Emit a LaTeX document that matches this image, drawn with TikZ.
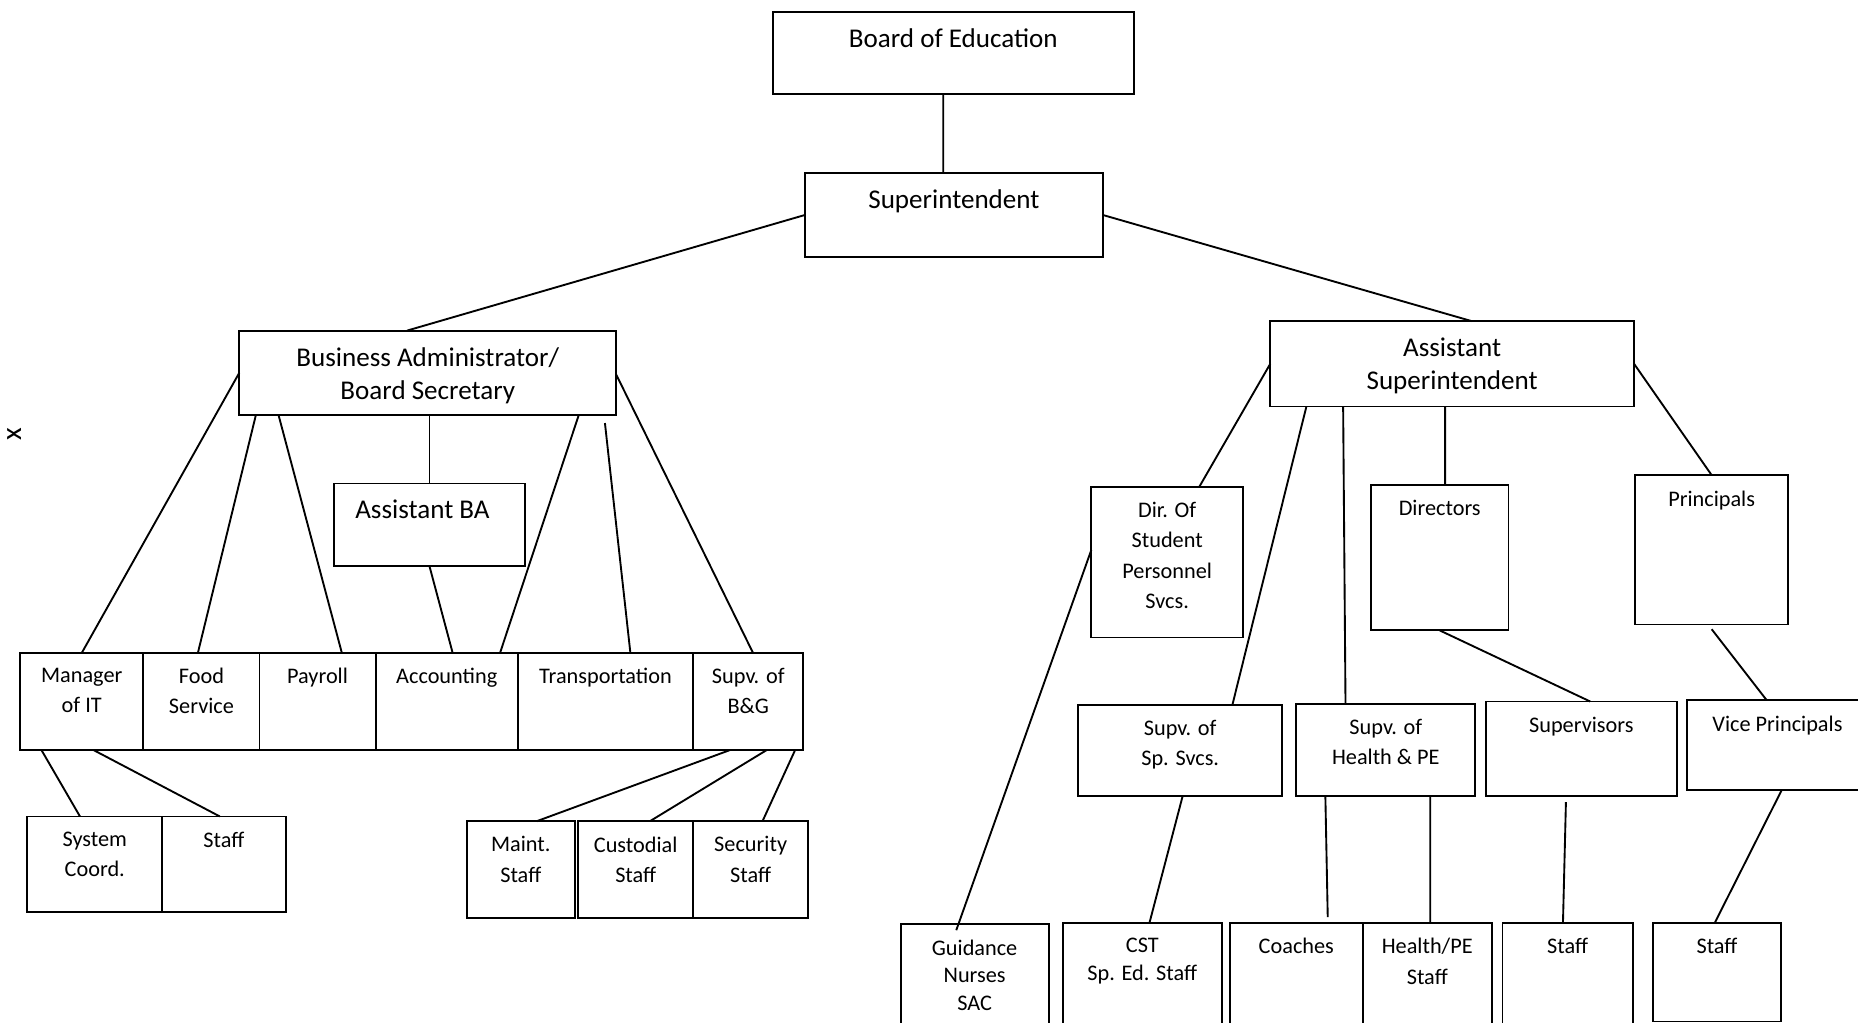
\documentclass[tikz,border=0pt]{standalone}
\usepackage{fontspec}
\setmainfont{Carlito}

\begin{document}
\begin{tikzpicture}[
        x=0.02cm, y=-0.02cm,
        unit/.style={draw, line width=0.9pt, anchor=north west, inner sep=0pt, outer sep=0pt},
        dims/.style 2 args={minimum width=#1*0.02cm, minimum height=#2*0.02cm},
        txt/.style={anchor=north, align=center, inner sep=0pt, yshift=-7.2pt, font=\fontsize{10.7}{14.5}\selectfont},
        head/.style={anchor=north, align=center, inner sep=0pt, yshift=-7.8pt, font=\fontsize{13}{15.9}\selectfont},
        link/.style={line width=0.9pt}
    ]
        \useasboundingbox (0,0) rectangle (1568,863);

        % 1. Topo (Board / Superintendent)
        \node[unit, dims={305}{69}, label={[head]north:Board of Education}] (board) at (652,10) {};
        \node[unit, dims={252}{71}, label={[head]north:Superintendent}] (super) at (679,146) {};
        \draw[link] ([xshift=-0.17cm]board.south) -- ([xshift=-0.18cm]super.north);

        % 2. Lado do Business Administrator
        \node[unit, dims={318}{71}, label={[head]north:{Business Administrator/\\Board Secretary}}] (ba) at (202,279) {};
        \node[unit, dims={161}{70}, label={[head, xshift=-0.12cm]north:Assistant BA}] (aba) at (282,408) {};
        \draw[link] (super.west) -- ([xshift=-0.35cm]ba.north);
        \draw[link] (aba.north |- ba.south) -- (aba.north);

        \node[unit, dims={104}{82}, label={[txt]north:{Manager\\of IT}}] (mit) at (17,551) {};
        \node[unit, dims={98}{82}, label={[txt]north:{Food\\Service}}] (food) at (mit.north east) {};
        \node[unit, dims={98}{82}, label={[txt]north:Payroll}] (pay) at (food.north east) {};
        \node[unit, dims={120}{82}, label={[txt]north:Accounting}] (acct) at (pay.north east) {};
        \node[unit, dims={148}{82}, label={[txt]north:Transportation}] (trans) at (acct.north east) {};
        \node[unit, dims={93}{82}, label={[txt]north:{Supv. of\\B\&G}}] (bg) at (trans.north east) {};

        \draw[link] (ba.west) -- (mit.north);
        \draw[link] ([xshift=0.28cm]ba.south west) -- ([xshift=-0.06cm]food.north);
        \draw[link] ([xshift=0.66cm]ba.south west) -- ([xshift=0.41cm]pay.north);
        \draw[link] (aba.south) -- ([xshift=0.1cm]acct.north);
        \draw[link] ([xshift=-0.63cm]ba.south east) -- ([xshift=-0.3cm]acct.north east);
        \draw[link] ([xshift=-0.19cm, yshift=-0.14cm]ba.south east) -- ([xshift=0.42cm]trans.north);
        \draw[link] ([yshift=-0.03cm]ba.east) -- ([xshift=0.08cm]bg.north);

        \node[unit, dims={114}{81}, label={[txt]north:{System\\Coord.}}] (sys) at (23,689) {};
        \node[unit, dims={104}{81}, label={[txt]north:Staff}] (itstaff) at (sys.north east) {};
        \draw[link] ([xshift=0.36cm]mit.south west) -- ([xshift=-0.25cm]sys.north);
        \draw[link] ([xshift=1.24cm]mit.south west) -- ([xshift=-0.07cm]itstaff.north);

        \node[unit, dims={91}{82}, label={[txt]north:{Maint.\\Staff}}] (maint) at (394,693) {};
        \node[unit, dims={97}{82}, label={[txt]north:{Custodial\\Staff}}] (cust) at (488,693) {};
        \node[unit, dims={97}{82}, label={[txt]north:{Security\\Staff}}] (sec) at (cust.north east) {};
        \draw[link] ([xshift=0.62cm]bg.south west) -- ([xshift=0.27cm]maint.north);
        \draw[link] ([xshift=1.24cm]bg.south west) -- ([xshift=0.24cm]cust.north);
        \draw[link] ([xshift=-0.14cm]bg.south east) -- ([xshift=0.2cm]sec.north);

        % 3. Lado do Assistant Superintendent
        \node[unit, dims={307}{72}, label={[head]north:{Assistant\\Superintendent}}] (asup) at (1072,271) {};
        \draw[link] (super.east) -- ([xshift=0.33cm]asup.north);

        \node[unit, dims={128}{127}, label={[txt]north:{Dir. Of\\Student\\Personnel\\Svcs.}}] (dsp) at (921,411) {};
        \node[unit, dims={116}{123}, label={[txt]north:Directors}] (dir) at (1157,409) {};
        \node[unit, dims={129}{126}, label={[txt]north:Principals}] (prin) at (1380,401) {};
        \draw[link] (asup.west) -- ([xshift=0.54cm]dsp.north);
        \draw[link] ([xshift=-0.12cm]asup.south) -- ([xshift=0.09cm]dir.north);
        \draw[link] (asup.east) -- (prin.north);

        \node[unit, dims={172}{77}, label={[txt]north:{Supv. of\\Sp. Svcs.}}] (spsv) at (910,595) {};
        \node[unit, dims={151}{78}, label={[txt]north:{Supv. of\\Health \& PE}}] (hpe) at (1094,594) {};
        \node[unit, dims={161}{80}, label={[txt]north:Supervisors}] (supv) at (1254,592) {};
        \node[unit, dims={152}{76}, label={[txt]north:Vice Principals}] (vp) at (1424,591) {};
        \draw[link] ([xshift=0.61cm]asup.south west) -- ([xshift=0.88cm]spsv.north);
        \draw[link] ([xshift=1.23cm]asup.south west) -- ([xshift=0.83cm]hpe.north west);
        \draw[link] (dir.south) -- ([xshift=0.15cm]supv.north);
        \draw[link] ([yshift=-0.08cm]prin.south) -- ([xshift=-0.18cm]vp.north);

        % 4. Linha de baixo (staff)
        \node[unit, dims={125}{100}, label={[txt, font=\fontsize{10.7}{13.2}\selectfont]north:{Guidance\\Nurses\\SAC}}] (guid) at (760,780) {};
        \node[unit, dims={134}{100}, label={[txt, font=\fontsize{10.7}{13.2}\selectfont]north:{CST\\Sp. Ed. Staff}}] (cst) at (897,779) {};
        \node[unit, dims={112}{100}, label={[txt]north:Coaches}] (coach) at (1038,779) {};
        \node[unit, dims={109}{100}, label={[txt]north:{Health/PE\\Staff}}] (hpstf) at (coach.north east) {};
        \node[unit, dims={110}{100}, label={[txt]north:Staff}] (supstf) at (1268,779) {};
        \node[unit, dims={108}{83}, label={[txt]north:Staff}] (vpstf) at (1395,779) {};

        \draw[link] ([yshift=0.21cm]dsp.west) -- ([xshift=-0.31cm, yshift=-0.1cm]guid.north);
        \draw[link] ([xshift=0.04cm]spsv.south) -- ([xshift=0.12cm]cst.north);
        \draw[link] ([xshift=0.49cm]hpe.south west) -- ([xshift=0.53cm, yshift=0.1cm]coach.north);
        \draw[link] ([xshift=-0.76cm]hpe.south east) -- ([xshift=0.05cm]hpstf.north);
        \draw[link] ([xshift=-0.26cm, yshift=-0.1cm]supv.south) -- ([xshift=-0.08cm]supstf.north);
        \draw[link] ([xshift=1.59cm]vp.south west) -- ([xshift=-0.04cm]vpstf.north);

        % marca solta na margem
        \node[rotate=90, inner sep=0pt, font=\fontsize{14}{16}\selectfont] (xmark) at (12,366) {x};
\end{tikzpicture}
\end{document}
